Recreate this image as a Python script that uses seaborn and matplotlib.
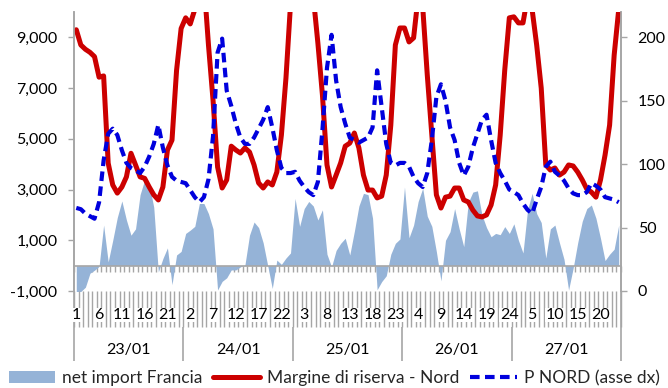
import numpy as np
import pandas as pd
import seaborn as sns
import matplotlib
matplotlib.use("Agg")
import matplotlib.pyplot as plt
from matplotlib.patches import Patch
from matplotlib.lines import Line2D
from matplotlib.ticker import FuncFormatter
import matplotlib.transforms as mtransforms

# ---------------- data ----------------
days = ["23/01", "24/01", "25/01", "26/01", "27/01"]
hours = list(range(1, 25))

net_import = [
    -1020, -1020, -850, -300, -180, -30, 1600, 150, 1000, 1900, 2550, 1800,
    1200, 1450, 2800, 3380, 3200, 2300, -250, 280, 700, -750, 420, 560,
    1270, 1400, 1550, 2450, 2450, 2050, 1450, -960, -620, -480, -170, -170,
    -50, 30, 1200, 1720, 1500, 900, 0, -900, 220, 50, 300, 500,
    2650, 1550, 2250, 2530, 2350, 1800, 2200, 450, -50, 600, 880, 1080,
    420, 1350, 2350, 2850, 2800, 1870, -950, -630, -400, 450, 880, 1050,
    3100, 1100, 1600, 2530, 3050, 1950, 1550, 550, -600, 1000, 1340, 2250,
    1450, 750, 2500, 2900, 2950, 2000, 1500, 1140, 1270, 1220, 1540, 1270,
    1650, 1000, 500, 2200, 2850, 2050, 1700, 300, 1450, 1600, 900, 250,
    -960, -100, 900, 1750, 2250, 2390, 1870, 1080, 200, 450, 650, 1600,
]

margine = [
    9300, 8700, 8530, 8410, 8240, 7430, 7480, 4040, 3180, 2860, 3100, 3500,
    4430, 3970, 3500, 3440, 3100, 2790, 2590, 3100, 4560, 4950, 7700, 9350,
    9770, 9530, 10100, 11500, 11200, 8700, 6530, 3890, 3060, 3380, 4710, 4560,
    4440, 4640, 4480, 3970, 3260, 3060, 3300, 3180, 3690, 5150, 7400, 10300,
    10800, 11500, 11500, 11200, 10600, 8780, 6730, 3970, 3100, 3570, 4050, 4710,
    4830, 5230, 4640, 3570, 2980, 2980, 2670, 2740, 3570, 5540, 8700, 9370,
    9370, 8820, 8980, 10600, 10200, 7520, 5150, 2790, 2270, 2700, 2740, 3060,
    3060, 2590, 2510, 2190, 1960, 1920, 2000, 2390, 3180, 5150, 7720, 9770,
    9810, 9570, 9570, 10600, 10100, 8700, 7000, 3970, 3770, 3850, 3570, 3690,
    3970, 3930, 3690, 3380, 3020, 2900, 2700, 3380, 4360, 5540, 8300, 10100,
]

p_nord = [
    65.5, 64.5, 61, 59, 57, 70, 103, 124, 128, 123, 111, 101,
    97, 95, 93, 98, 106, 116, 131, 113, 99, 90, 87, 86,
    85, 79.5, 74, 70, 74, 88, 122, 188, 199, 158, 146, 132,
    121, 116, 116, 121, 128, 135, 145, 129, 111, 97, 93, 93,
    94, 87, 82, 78, 75.6, 86, 127, 176, 202, 166, 145, 132,
    121, 119, 117, 119, 121, 129, 174, 145, 116, 101, 99, 101,
    101, 98, 90, 85, 82, 93, 119, 153, 163, 150, 129, 119,
    101, 91, 98, 113, 124, 135, 139, 119, 101, 93, 87, 80,
    78, 75.6, 69, 64, 61, 72, 82, 98, 102, 94, 91, 87,
    81, 77, 75.6, 75.6, 78, 85, 83, 80, 74, 73, 72, 70,
]

labels = ["net import Francia", "Margine di riserva - Nord", "P NORD (asse dx)"]

# ---------------- styling ----------------
sns.set_style("white")
plt.rcParams["font.family"] = ["Lato", "DejaVu Sans"]

C_AREA = "#95B3D7"
C_RED = "#CC0000"
C_BLUE = "#0000DD"
C_AX = "#A6A6A6"
FS = 11.5

n = len(net_import)
df = pd.DataFrame({
    "idx": np.arange(n),
    "net": net_import,
    "marg": margine,
    "pn": p_nord,
    "day": np.repeat(days, len(hours)),
    "hour": np.tile(hours, len(days)),
})

fig = plt.figure(figsize=(6.68, 3.88), dpi=100)
ax = fig.add_axes([74 / 668, 97 / 388, 547 / 668, 279 / 388])

ax.fill_between(df["idx"], 0, df["net"], color=C_AREA, linewidth=0, zorder=1)
sns.lineplot(data=df, x="idx", y="marg", ax=ax, color=C_RED, linewidth=3.6,
             legend=False, zorder=3)

ax2 = ax.twinx()
sns.lineplot(data=df, x="idx", y="pn", ax=ax2, color=C_BLUE, linewidth=3.0,
             linestyle=(0, (2.3, 1.3)), legend=False, zorder=4)

ax.set_xlim(-0.5, n - 0.5)
ax.set_ylim(-1000, 10000)
ax2.set_ylim(0, 220)
ax.set_xlabel("")
ax.set_ylabel("")
ax2.set_ylabel("")

ax.set_yticks(np.arange(-1000, 10000, 2000))
ax.yaxis.set_major_formatter(FuncFormatter(lambda v, p: f"{int(v):,}"))
ax2.set_yticks([0, 50, 100, 150, 200])

# zero line with small ticks at category boundaries
ax.spines["bottom"].set_position(("data", 0))
ax.spines["bottom"].set_color(C_AX)
ax.spines["bottom"].set_linewidth(1.2)
ax.set_xticks(np.arange(-0.5, n, 1))
ax.set_xticklabels([])
ax.tick_params(axis="x", which="major", length=4.5, width=1.0, color=C_AX,
               direction="out", bottom=True)

for a in (ax, ax2):
    a.spines["top"].set_visible(False)
    a.spines["left"].set_color(C_AX)
    a.spines["right"].set_color(C_AX)
    a.spines["left"].set_linewidth(1.2)
    a.spines["right"].set_linewidth(1.2)
ax2.spines["bottom"].set_visible(False)

ax.tick_params(axis="y", which="major", length=4, width=1, color=C_AX,
               direction="out", pad=8, labelsize=FS, left=True, labelcolor="#000000")
ax2.tick_params(axis="y", which="major", length=4, width=1, color=C_AX,
                direction="out", pad=8, labelsize=FS, right=True, labelcolor="#000000")

# multi-level category axis below the plot
trans = mtransforms.blended_transform_factory(ax.transData, ax.transAxes)
y_hatch = (291 - 327) / 279
y_bottom = (291 - 361) / 279
y_hour = (291 - 315) / 279
y_day = (291 - 350) / 279

bounds = np.arange(-0.5, n, 1)
ax.vlines(bounds, y_hatch, 0, transform=trans, colors=C_AX, linewidth=1.0,
          clip_on=False)
day_bounds = np.arange(-0.5, n, len(hours))
ax.vlines(day_bounds, y_bottom, y_hatch, transform=trans, colors=C_AX,
          linewidth=1.2, clip_on=False)
ax.vlines([-0.5, n - 0.5], y_hatch, 0, transform=trans, colors=C_AX,
          linewidth=1.2, clip_on=False)

for i in range(0, n, 5):
    ax.text(df["idx"][i], y_hour, str(df["hour"][i]), transform=trans,
            ha="center", va="center", fontsize=FS, color="#000000",
            bbox=dict(facecolor="white", edgecolor="none", pad=0.3))

for d, name in enumerate(days):
    center = d * len(hours) + (len(hours) - 1) / 2
    ax.text(center, y_day, name, transform=trans, ha="center", va="center",
            fontsize=FS, color="#000000")

handles = [
    Patch(facecolor=C_AREA, edgecolor="none"),
    Line2D([0], [0], color=C_RED, linewidth=3.6),
    Line2D([0], [0], color=C_BLUE, linewidth=3.0, linestyle=(0, (2.3, 1.3))),
]
fig.legend(handles, labels, loc="center", bbox_to_anchor=(0.5, 1 - 378 / 388),
           ncol=3, frameon=False, fontsize=12.5, handlelength=2.7,
           handletextpad=0.4, columnspacing=0.6)

fig.savefig("out.png", dpi=100, facecolor="white")
